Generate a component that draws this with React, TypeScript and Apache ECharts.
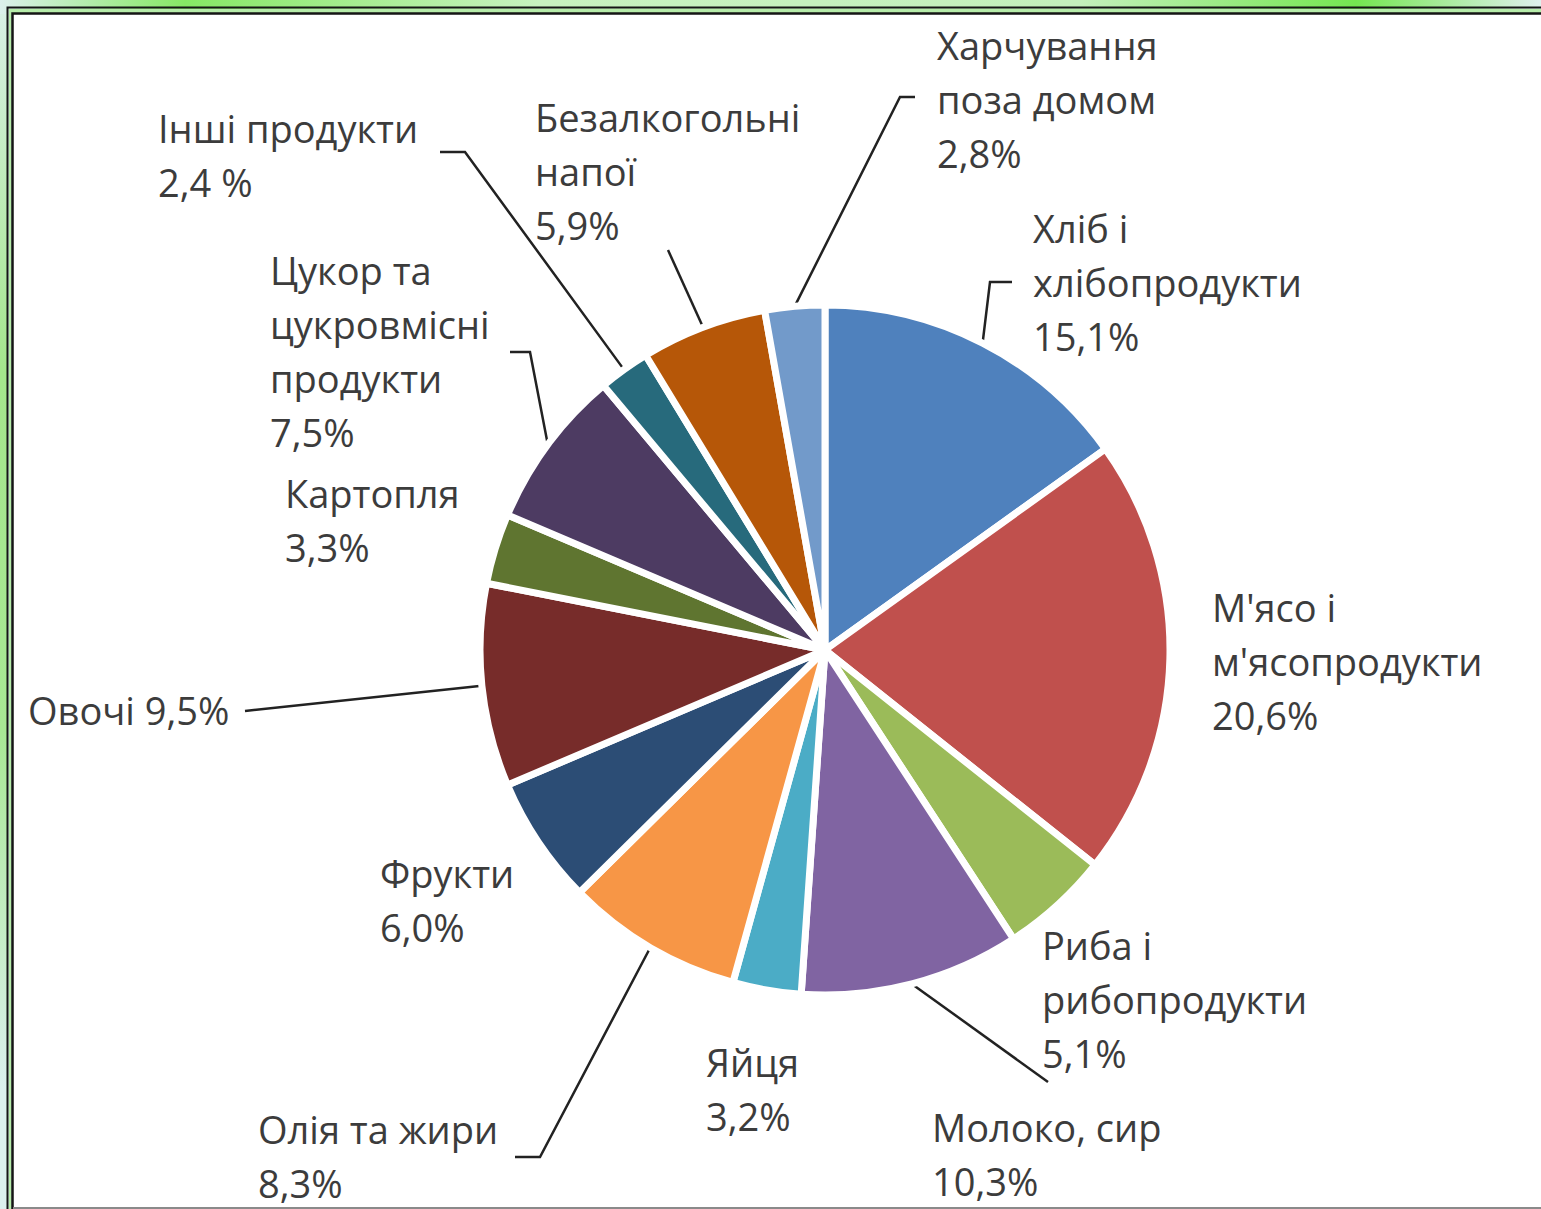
import React, { useEffect, useRef } from "react";
import * as echarts from "echarts";

const categories = [
  "Хліб і\nхлібопродукти",
  "М'ясо і\nм'ясопродукти",
  "Риба і\nрибопродукти",
  "Молоко, сир",
  "Яйця",
  "Олія та жири",
  "Фрукти",
  "Овочі",
  "Картопля",
  "Цукор та\nцукровмісні\nпродукти",
  "Інші продукти",
  "Безалкогольні\nнапої",
  "Харчування\nпоза домом",
];
const values = [15.1, 20.6, 5.1, 10.3, 3.2, 8.3, 6.0, 9.5, 3.3, 7.5, 2.4, 5.9, 2.8];
const valueSeparators = ["\n", "\n", "\n", "\n", "\n", "\n", "\n", " ", "\n", "\n", "\n", "\n", "\n"];
const percentSuffix = ["%", "%", "%", "%", "%", "%", "%", "%", "%", "%", " %", "%", "%"];
const sliceColors = [
  "#4F81BD", "#C0504D", "#9BBB59", "#8064A2", "#4BACC6", "#F79646",
  "#2C4D75", "#772C2A", "#5F7530", "#4D3B62", "#276A7C", "#B65708", "#729ACA",
];
const hasLeader = [true, false, false, true, false, true, false, true, false, true, true, true, true];

// label placement (top-left of text block) and leader bends: layout only
const labelPos: [number, number][] = [
  [1033, 201], [1212, 580], [1042, 918], [932, 1100], [706, 1035], [258, 1102],
  [380, 846], [28, 683], [285, 466], [270, 243], [158, 101], [535, 90], [937, 18],
];
const leaderBends: [number, number][][] = [
  [[990, 282], [1012, 282]],
  [],
  [],
  [[1048, 1082]],
  [],
  [[540, 1157], [515, 1157]],
  [],
  [[245, 711]],
  [],
  [[530, 352], [510, 352]],
  [[465, 152], [440, 152]],
  [[668, 250]],
  [[900, 97], [915, 97]],
];

export default function App() {
  const ref = useRef<HTMLDivElement>(null);
  useEffect(() => {
    document.body.style.margin = "0";
    document.body.style.overflow = "hidden";
    if (!ref.current) return;
    const chart = echarts.init(ref.current, undefined, { renderer: "svg" });
    const cx = 825;
    const cy = 650;
    const r = 345;
    chart.setOption({
      animation: false,
      backgroundColor: "#ffffff",
      graphic: [
        {
          type: "rect",
          z: -10,
          silent: true,
          shape: { x: 0, y: 0, width: 1541, height: 1209 },
          style: {
            fill: new echarts.graphic.LinearGradient(0, 0, 1, 0, [
              { offset: 0, color: "#dcf0ec" },
              { offset: 0.12, color: "#86e864" },
              { offset: 0.35, color: "#c8f2c0" },
              { offset: 0.7, color: "#c4f0bc" },
              { offset: 0.88, color: "#74e650" },
              { offset: 1, color: "#e0f0ee" },
            ]),
          },
        },
        {
          type: "rect",
          z: -9,
          silent: true,
          shape: { x: 0, y: 14, width: 8, height: 1195 },
          style: {
            fill: new echarts.graphic.LinearGradient(0, 0, 0, 1, [
              { offset: 0, color: "#d8f0e4" },
              { offset: 0.3, color: "#a4e68c" },
              { offset: 0.6, color: "#a8e894" },
              { offset: 0.9, color: "#dcf0ee" },
              { offset: 1, color: "#dcf0ee" },
            ]),
          },
        },
        {
          type: "polyline",
          z: -8,
          silent: true,
          shape: { points: [[1541, 7.5], [7.5, 7.5], [7.5, 1209]] },
          style: { stroke: "#151515", lineWidth: 2, fill: null },
        },
        {
          type: "rect",
          z: -8,
          silent: true,
          shape: { x: 9, y: 9, width: 1532, height: 4 },
          style: { fill: "#b6ecaa" },
        },
        {
          type: "rect",
          z: -8,
          silent: true,
          shape: { x: 9, y: 9, width: 2.5, height: 1200 },
          style: { fill: "#b6ecaa" },
        },
        {
          type: "rect",
          z: -7,
          silent: true,
          shape: { x: 13, y: 14, width: 1528, height: 1195 },
          style: { fill: "#ffffff" },
        },
        {
          type: "polyline",
          z: -6,
          silent: true,
          shape: { points: [[1541, 13.5], [12.5, 13.5], [12.5, 1209]] },
          style: { stroke: "#151515", lineWidth: 2.5, fill: null },
        },
        {
          type: "line",
          z: -6,
          silent: true,
          shape: { x1: 13, y1: 1208, x2: 1541, y2: 1208 },
          style: { stroke: "#8a8a8a", lineWidth: 2 },
        },
      ],
      series: [
        {
          type: "pie",
          center: [cx, cy],
          radius: r,
          startAngle: 90,
          clockwise: true,
          avoidLabelOverlap: false,
          itemStyle: { borderColor: "#ffffff", borderWidth: 7 },
          label: {
            show: true,
            position: "outside",
            fontFamily: "Open Sans",
            fontSize: 38,
            lineHeight: 54,
            color: "#3c3c3c",
            formatter: (p: any) =>
              categories[p.dataIndex] +
              valueSeparators[p.dataIndex] +
              values[p.dataIndex].toFixed(1).replace(".", ",") +
              percentSuffix[p.dataIndex],
          },
          labelLine: {
            show: true,
            length: 10,
            length2: 10,
            lineStyle: { color: "#222222", width: 2.5 },
          },
          labelLayout: (params: any) => {
            const i = params.dataIndex;
            const pos = labelPos[i];
            const out: any = {
              x: pos[0],
              y: pos[1],
              align: "left",
              verticalAlign: "top",
            };
            if (hasLeader[i] && params.labelLinePoints && params.labelLinePoints[0]) {
              const start = params.labelLinePoints[0];
              out.labelLinePoints = [[start[0], start[1]], ...leaderBends[i]];
            }
            return out;
          },
          data: categories.map((name, i) => ({
            name,
            value: values[i],
            itemStyle: { color: sliceColors[i] },
            labelLine: { show: hasLeader[i] },
          })),
        },
      ],
    });
    return () => chart.dispose();
  }, []);
  return (
    <div
      ref={ref}
      style={{ position: "absolute", left: 0, top: 0, width: 1541, height: 1209 }}
    />
  );
}
